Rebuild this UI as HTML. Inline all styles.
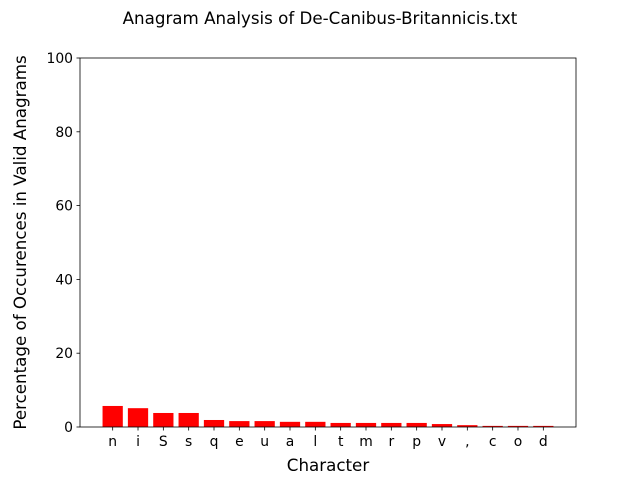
<!DOCTYPE html>
<html><head><meta charset="utf-8"><style>
body{margin:0;background:#fff;font-family:"Liberation Sans","DejaVu Sans",sans-serif;}
</style></head><body>
<svg id="chart" width="640" height="480" xmlns="http://www.w3.org/2000/svg">
<rect width="640" height="480" fill="#fff"/>
<text x="320" y="24" font-size="16.7" text-anchor="middle" font-family="DejaVu Sans, sans-serif">Anagram Analysis of De-Canibus-Britannicis.txt</text>
<g id="bars"></g>
<g id="axes"></g>
<text x="328" y="471" font-size="16.7" text-anchor="middle" font-family="DejaVu Sans, sans-serif">Character</text>
<text transform="translate(26,242.5) rotate(-90)" font-size="16.7" text-anchor="middle" font-family="DejaVu Sans, sans-serif">Percentage of Occurences in Valid Anagrams</text>
</svg>
<script>
const categories = ["n","i","S","s","q","e","u","a","l","t","m","r","p","v",",","c","o","d"];
const values = [5.7,5.1,3.8,3.8,1.9,1.6,1.6,1.4,1.4,1.1,1.1,1.1,1.1,0.8,0.5,0.3,0.3,0.3];
const yTicks = [0,20,40,60,80,100];
const NS="http://www.w3.org/2000/svg";
const L=80,R=576,T=58,B=427;
const n=categories.length;
const xmin=-0.4-0.05*(n-1+0.8), xmax=n-1+0.4+0.05*(n-1+0.8);
const xs=v=>L+(v-xmin)/(xmax-xmin)*(R-L);
const ys=v=>B-v/100*(B-T);
const bw=0.8*(R-L)/(xmax-xmin);
const bars=document.getElementById('bars'), axes=document.getElementById('axes');
function mk(tag,attrs,parent){const e=document.createElementNS(NS,tag);for(const k in attrs)e.setAttribute(k,attrs[k]);parent.appendChild(e);return e;}
categories.forEach((c,i)=>{
  const r=mk('rect',{x:xs(i)-bw/2,y:ys(values[i]),width:bw,height:B-ys(values[i]),fill:'#ff0000'},bars);
  
  
  const t=mk('line',{x1:xs(i),x2:xs(i),y1:B,y2:B+3.5,stroke:'#000','stroke-width':0.8},axes);
  
  
  const tx=mk('text',{x:xs(i),y:B+19,'font-size':13.9,'text-anchor':'middle','font-family':'DejaVu Sans, sans-serif'},axes);
  tx.textContent=c;
  
  
});
yTicks.forEach(v=>{
  const t=mk('line',{x1:L-3.5,x2:L,y1:ys(v),y2:ys(v),stroke:'#000','stroke-width':0.8},axes);
  
  
  const tx=mk('text',{x:L-7,y:ys(v)+5,'font-size':13.9,'text-anchor':'end','font-family':'DejaVu Sans, sans-serif'},axes);
  tx.textContent=v;
  
  
});
const f=mk('rect',{x:L,y:T,width:R-L,height:B-T,fill:'none',stroke:'#000','stroke-width':0.8},axes);


</script>
</body></html>
